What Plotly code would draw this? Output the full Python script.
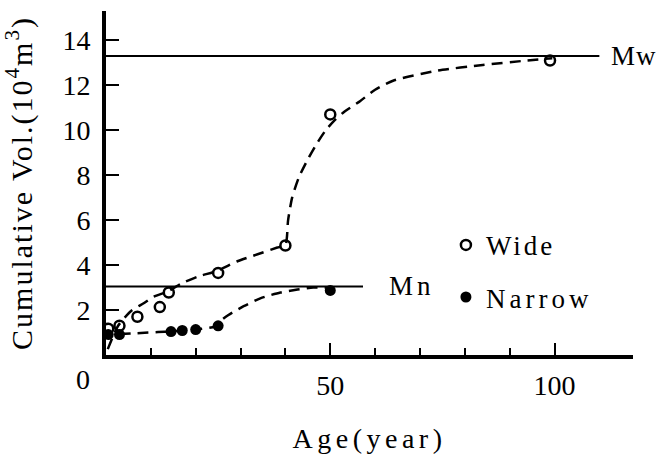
import plotly.graph_objects as go

# ---- data ----
wide_age = [0.5, 3, 7, 12, 14, 25, 40, 50, 99]
wide_vol = [1.17, 1.3, 1.7, 2.13, 2.78, 3.65, 4.87, 10.7, 13.1]

narrow_age = [0.5, 3, 14.5, 17, 20, 25, 50]
narrow_vol = [0.91, 0.91, 1.04, 1.09, 1.13, 1.3, 2.87]

# hand-drawn dashed trend curves
wide_curve_age = [0.4, 2.7, 5.6, 8.4, 10.7, 13.8, 16.7, 20.4, 24.7, 29.3, 33.8, 38.2, 40.0,
                  40.6, 41.5, 43.0, 45.0, 47.0, 49.0, 51.0, 53.0, 56.7, 60.0, 64.0, 74.0,
                  84.0, 94.0, 99.5]
wide_curve_vol = [0.26, 1.3, 1.96, 2.3, 2.6, 2.83, 3.17, 3.48, 3.74, 4.17, 4.48, 4.78, 4.9,
                  6.0, 7.0, 7.9, 8.7, 9.4, 10.0, 10.45, 10.8, 11.3, 11.8, 12.2, 12.65,
                  12.9, 13.1, 13.2]

narrow_curve_age = [3, 7.8, 11.6, 14.5, 17, 20, 25, 25.6, 27.3, 30.7, 34.4, 38.9, 42.7, 46.2, 50]
narrow_curve_vol = [0.93, 0.98, 1.02, 1.05, 1.09, 1.13, 1.3, 1.52, 1.78, 2.17, 2.52, 2.78, 2.91, 3.0, 3.0]

# maximum levels
Mw_value = 13.3
Mw_extent = [0, 110]
Mn_value = 3.05
Mn_extent = [0, 57.3]

y_ticks = [2, 4, 6, 8, 10, 12, 14]
x_ticks = [50, 100]
x_minor_ticks = [10, 20, 30, 40, 60, 70, 80, 90]

FONT = "Times New Roman, Liberation Serif, serif"


def spaced(text, px):
    return f'<span style="letter-spacing:{px}px">{text}</span>'


fig = go.Figure()

dash_line = dict(color="black", width=2.5, dash="11px,7px", shape="spline", smoothing=0.6)

fig.add_trace(go.Scatter(x=wide_curve_age, y=wide_curve_vol, mode="lines",
                         line=dash_line, showlegend=False, hoverinfo="skip"))
fig.add_trace(go.Scatter(x=narrow_curve_age, y=narrow_curve_vol, mode="lines",
                         line=dash_line, showlegend=False, hoverinfo="skip"))

fig.add_trace(go.Scatter(x=Mw_extent, y=[Mw_value] * 2, mode="lines",
                         line=dict(color="black", width=2), showlegend=False, hoverinfo="skip"))
fig.add_trace(go.Scatter(x=Mn_extent, y=[Mn_value] * 2, mode="lines",
                         line=dict(color="black", width=2), showlegend=False, hoverinfo="skip"))

fig.add_trace(go.Scatter(x=wide_age, y=wide_vol, mode="markers", name=spaced("Wide", 3),
                         legendgroup="w",
                         marker=dict(symbol="circle-open", size=10, color="black",
                                     line=dict(width=2.5, color="black"))))
fig.add_trace(go.Scatter(x=narrow_age, y=narrow_vol, mode="markers", name=spaced("Narrow", 4),
                         legendgroup="n",
                         marker=dict(symbol="circle", size=11, color="black")))

fig.add_annotation(x=Mw_extent[1], y=Mw_value, xref="x", yref="y", text=spaced("Mw", 1),
                   showarrow=False, xanchor="left", yanchor="middle", xshift=10,
                   font=dict(family=FONT, size=27, color="black"))
fig.add_annotation(x=Mn_extent[1], y=Mn_value, xref="x", yref="y", text=spaced("Mn", 4),
                   showarrow=False, xanchor="left", yanchor="middle", xshift=24,
                   font=dict(family=FONT, size=27, color="black"))
fig.add_annotation(x=-0.043, y=-0.07, xref="paper", yref="paper", text="0",
                   showarrow=False, xanchor="center", yanchor="middle",
                   font=dict(family=FONT, size=28, color="black"))

fig.update_layout(
    width=662, height=461, autosize=False,
    margin=dict(l=104, r=29, t=11, b=98),
    paper_bgcolor="white", plot_bgcolor="white",
    font=dict(family=FONT, size=28, color="black"),
    legend=dict(x=0.645, y=0.39, xanchor="left", yanchor="top",
                bgcolor="rgba(0,0,0,0)", tracegroupgap=14,
                font=dict(family=FONT, size=27, color="black")),
    xaxis=dict(range=[0, 117.5], showgrid=False, zeroline=False,
               showline=True, linewidth=4, linecolor="black",
               tickmode="array", tickvals=x_ticks, ticktext=[str(v) for v in x_ticks],
               ticks="inside", ticklen=12, tickwidth=2, tickcolor="black",
               ticklabelstandoff=2,
               tickfont=dict(family=FONT, size=28),
               minor=dict(tickvals=x_minor_ticks, ticks="inside", ticklen=7,
                          tickwidth=1.5, tickcolor="black"),
               title=dict(text=spaced("Age(year)", 4.5), standoff=30,
                          font=dict(family=FONT, size=28))),
    yaxis=dict(range=[0, 15.3], showgrid=False, zeroline=False,
               showline=True, linewidth=4, linecolor="black",
               tickmode="array", tickvals=y_ticks, ticktext=[str(v) for v in y_ticks],
               ticks="inside", ticklen=13, tickwidth=2, tickcolor="black",
               ticklabelstandoff=6,
               tickfont=dict(family=FONT, size=28),
               title=dict(text=spaced("Cumulative Vol.(10<sup>4</sup>m<sup>3</sup>)", 2),
                          standoff=30, font=dict(family=FONT, size=30))),
)

fig.write_html("out.html")
